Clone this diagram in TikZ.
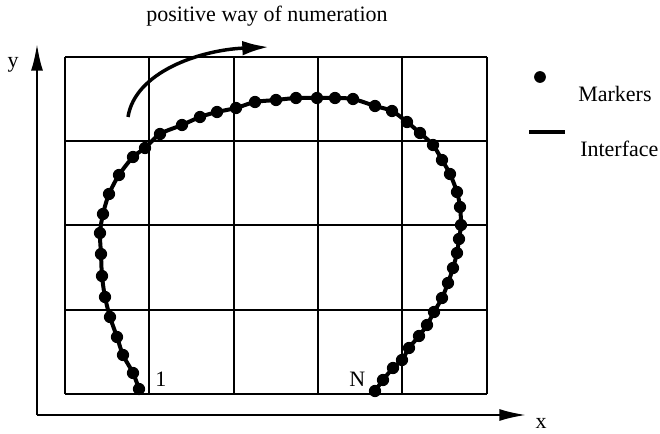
\documentclass[tikz,border=0pt]{standalone}
\usepackage{fontspec}
\setmainfont{Liberation Serif}
\usetikzlibrary{arrows.meta}
\begin{document}
\begin{tikzpicture}[x=0.75pt,y=-0.75pt,
  gridline/.style={line width=1.5pt},
  axisline/.style={line width=1.6pt,-{Latex[length=20pt,width=9pt]}},
  interface/.style={line width=3pt},
  marker/.style={fill=black},
  lbl/.style={font=\fontsize{16.5pt}{19pt}\selectfont,inner sep=0pt}]
\useasboundingbox (0,0) rectangle (660,434);
% grid
\foreach \x in {65,149,234,318,402,487} \draw[gridline] (\x,57) -- (\x,394);
\foreach \y in {57,141,225,310,394} \draw[gridline] (65,\y) -- (487,\y);
% axes
\coordinate (O) at (37,415);
\coordinate (Y) at (37,44);
\coordinate (X) at (526,415);
\draw[axisline] (O) -- (Y);
\draw[axisline] (O) -- (X);
\node[lbl,anchor=base] (ylab) at (13,68) {y};
\node[lbl,anchor=base] (xlab) at (541,428) {x};
% interface
\def\pts{(139,389) (133,373) (123,355) (117,337) (110,317) (105,297) (102,276) (101,254) (100,233) (103,214) (109,194) (119,175) (133,157) (145,148) (160,134) (182,125) (200,117) (217,112) (236,108) (255,102) (276,100) (296,98) (317,98) (335,98) (353,99) (375,106) (392,111) (407,122) (420,133) (433,145) (442,160) (450,174) (457,192) (460,207) (461,225) (459,239) (457,253) (453,268) (448,283) (442,298) (434,312) (427,325) (419,336) (409,348) (402,360) (393,368) (383,380) (375,391)}
\draw[interface] plot[smooth,tension=0.5] coordinates {\pts};
\foreach \p in {(139,389),(133,373),(123,355),(117,337),(110,317),(105,297),(102,276),(101,254),(100,233),(103,214),(109,194),(119,175),(133,157),(145,148),(160,134),(182,125),(200,117),(217,112),(236,108),(255,102),(276,100),(296,98),(317,98),(335,98),(353,99),(375,106),(392,111),(407,122),(420,133),(433,145),(442,160),(450,174),(457,192),(460,207),(461,225),(459,239),(457,253),(453,268),(448,283),(442,298),(434,312),(427,325),(419,336),(409,348),(402,360),(393,368),(383,380),(375,391)}
  \fill[marker] \p circle (4.6pt);
\node[lbl,anchor=base west] (one) at (155,387) {1};
\node[lbl,anchor=base west] (en) at (349,387) {N};
% direction arrow
\coordinate (a0) at (128,117);
\coordinate (a1) at (269,47);
\draw[line width=2.6pt,-{Latex[length=20pt,width=11pt]}] (a0) .. controls (135,72) and (200,50) .. (a1);
\node[lbl,anchor=base] (title) at (267,22) {positive way of numeration};
% legend
\fill[marker] (540,77) circle (4.4pt);
\node[lbl,anchor=base west] (mk) at (578,102) {Markers};
\coordinate (l0) at (529,132);
\coordinate (l1) at (565,132);
\draw[interface] (l0) -- (l1);
\node[lbl,anchor=base west] (itf) at (580,157) {Interface};
\end{tikzpicture}
\end{document}
